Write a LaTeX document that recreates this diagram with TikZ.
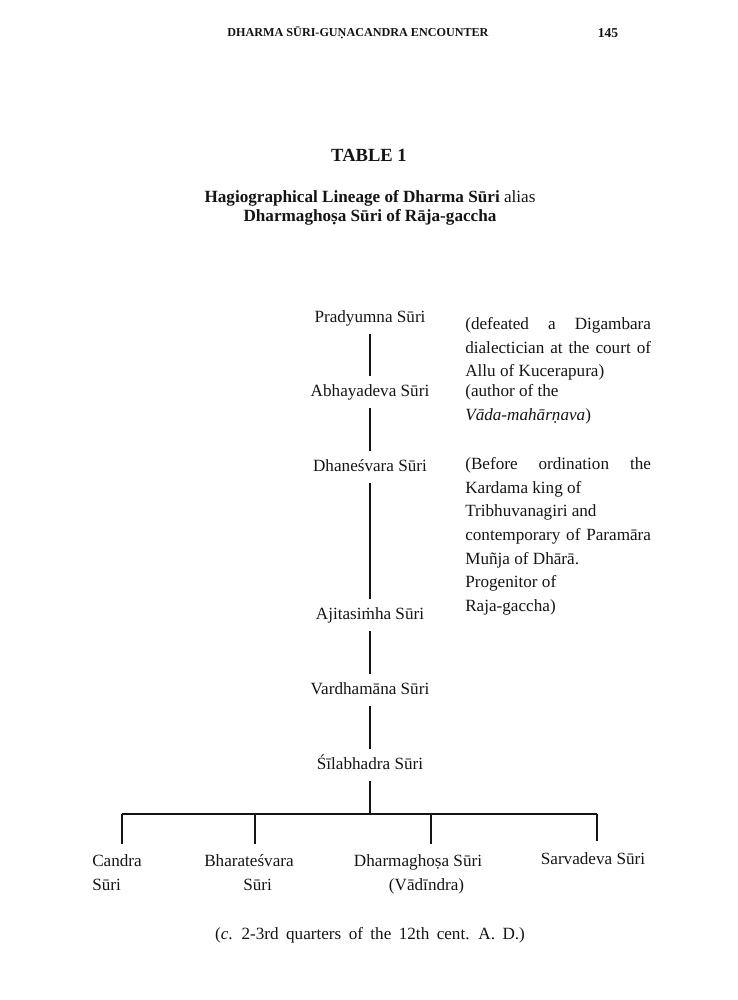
\documentclass[tikz,border=0pt]{standalone}
\usepackage{fontspec}
\setmainfont{Liberation Serif}
\usepackage{tikz}
\usetikzlibrary{positioning, calc}
\definecolor{myink}{RGB}{20,20,20}
\newlength{\notew}
\setlength{\notew}{130pt}
\newcommand{\topstrut}{\rule{0pt}{9pt}}
\tikzset{
  runhead/.style={text=myink, font=\fontsize{8.5}{10}\selectfont\bfseries, inner sep=0pt},
  tabhead/.style={text=myink, font=\fontsize{13}{15}\selectfont\bfseries, inner sep=0pt},
  caption/.style={text=myink, font=\fontsize{12}{13.5}\selectfont, align=center, inner sep=0pt},
  guru/.style={text=myink, font=\fontsize{12}{16.5}\selectfont,
    inner sep=5pt, text height=9pt, text depth=3pt},
  pupil/.style={text=myink, font=\fontsize{12}{16.5}\selectfont,
    inner sep=0pt, align=center, anchor=north},
  note/.style={text=myink, font=\fontsize{12}{16.5}\selectfont,
    inner sep=0pt, align=left, anchor=north west},
  line/.style={line width=0.9pt, color=myink}
}

\begin{document}
\begin{tikzpicture}[x=0.7pt, y=-0.7pt]
  \useasboundingbox (0,0) rectangle (737,1000);
  % page head
  \node[runhead] (running) at (358,33) {DHARMA SŪRI-GUṆACANDRA ENCOUNTER};
  \node[runhead, font=\fontsize{9.5}{11}\selectfont\bfseries] (folio) at (608,33) {145};
  \node[tabhead] (table) at (369,155) {TABLE 1};
  \node[caption] (title) at (370,208) {\textbf{Hagiographical Lineage of Dharma Sūri} alias\\
    \textbf{Dharmaghoṣa Sūri of Rāja-gaccha}};
  % line of descent
  \node[guru] (prad) at (370,318) {Pradyumna Sūri};
  \node[guru] (abha) at (370,392) {Abhayadeva Sūri};
  \node[guru] (dhan) at (370,467) {Dhaneśvara Sūri};
  \node[guru] (ajit) at (370,615) {Ajitasiṁha Sūri};
  \node[guru] (vard) at (370,690) {Vardhamāna Sūri};
  \node[guru] (sila) at (370,765) {Śīlabhadra Sūri};
  % remarks
  \node[note] (pradnote) at (465,316.6) {\topstrut\makebox[\notew][s]{(defeated a Digambara}\\
    \makebox[\notew][s]{dialectician at the court of}\\Allu of Kucerapura)};
  \node[note] (abhanote) at (465,383.6) {\topstrut(author of the\\\textit{Vāda-mahārṇava})};
  \node[note] (dhannote) at (465,456.6) {\topstrut\makebox[\notew][s]{(Before ordination the}\\
    Kardama king of\\Tribhuvanagiri and\\\makebox[\notew][s]{contemporary of Paramāra}\\Muñja of Dhārā.\\
    Progenitor of\\Raja-gaccha)};
  \draw[line] (prad) -- (abha);
  \draw[line] (abha) -- (dhan);
  \draw[line] (dhan) -- (ajit);
  \draw[line] (ajit) -- (vard);
  \draw[line] (vard) -- (sila);
  % the four pupils
  \coordinate (fork) at (370,814);
  \coordinate (cj) at (122,814);
  \coordinate (bj) at (255,814);
  \coordinate (dj) at (431,814);
  \coordinate (sj) at (597,814);
  \node[pupil, anchor=north west, align=left] (cand) at (92,853.6) {\topstrut Candra\\Sūri};
  \node[pupil] (bhar) at (249,853.6) {\topstrut Bharateśvara\\\hspace*{12pt}Sūri};
  \node[pupil] (dhgh) at (418,853.6) {\topstrut Dharmaghoṣa Sūri\\\hspace*{12pt}(Vādīndra)};
  \node[pupil] (sarv) at (593,851) {\topstrut Sarvadeva Sūri};
  \draw[line] (sila) -- (fork);
  \draw[line] (cj) -- (sj);
  \foreach \j/\p in {cj/cand, bj/bhar, dj/dhgh, sj/sarv}
    \draw[line, shorten >=7pt] (\j) -- (\j |- \p.north);
  % date
  \node[caption] (date) at (370,935) {\spaceskip=5.2pt plus 1pt
    (\textit{c}. 2-3rd quarters of the 12th cent. A. D.)};
\end{tikzpicture}
\end{document}
